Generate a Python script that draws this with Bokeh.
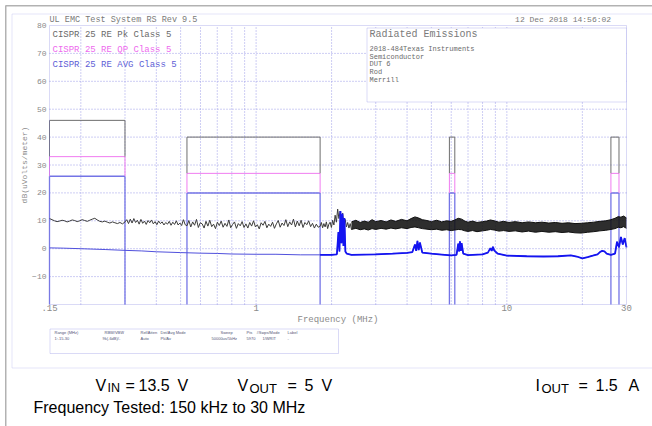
import math
import numpy as np
from bokeh.plotting import figure
from bokeh.models import Label, BoxAnnotation, FixedTicker, Range1d
from bokeh.embed import file_html
from bokeh.resources import INLINE

# ---------------- data ----------------
band_lo = [0.15, 0.53, 5.9, 26.0]
band_hi = [0.30, 1.8, 6.2, 28.0]
lim_pk = [46, 40, 40, 40]
lim_qp = [33, 27, 27, 27]
lim_avg = [26, 20, 20, 20]

x_lim = (0.15, 30.0)
y_lim = (-20.0, 80.0)
x_ticks = [0.15, 1, 10, 30]
x_tick_labels = {0.15: ".15", 1: "1", 10: "10", 30: "30"}
x_grid = [0.2, 0.3, 0.4, 0.5, 0.6, 0.7, 0.8, 0.9, 1, 2, 3, 4, 5, 6, 7, 8, 9, 10, 20]
y_ticks = [-10, 0, 10, 20, 30, 40, 50, 60, 70, 80]
y_grid = [-10, 0, 10, 20, 30, 40, 50, 60, 70]

# peak trace (dB uV/m), sweep segments
pk_a = [10.8, 10.4, 10.0, 9.7, 9.9, 10.2, 10.0, 9.6, 9.9, 10.3, 10.1, 9.7, 10.0, 10.4, 10.1,
        9.8, 10.2, 10.6, 10.9, 10.3, 9.8, 9.6, 9.9, 9.5, 9.2, 9.6, 9.3, 9.0, 9.4, 8.9]
pk_b = [9.6, 10.4, 9.0, 10.6, 9.2, 10.8, 9.4, 10.2, 8.8, 10.5, 9.1, 9.9, 8.7, 10.1, 9.3, 10.3,
        8.9, 9.7, 8.6, 9.9, 9.0, 9.6, 8.5, 9.4, 8.8, 9.8, 8.4, 9.5, 8.7, 10.0, 8.5, 9.2, 8.3,
        10.4, 8.6]
pk_c = [8.2, 10.1, 7.8, 9.6, 8.4, 10.5, 7.6, 9.3, 8.9, 7.4, 9.8, 8.1, 10.2, 7.9, 8.8, 7.2,
        9.5, 8.3, 9.9, 7.7, 9.1, 8.0, 10.3, 7.5, 8.7, 9.6, 7.3, 9.0, 8.2, 9.7, 7.6, 8.9, 7.4,
        9.4, 8.1, 10.0, 7.8, 8.6, 7.1, 9.3, 8.4, 9.8, 7.5, 8.8, 8.0, 9.5, 7.3, 8.9, 10.1, 7.7,
        9.2, 8.3, 10.4, 7.9, 9.6, 8.5, 10.6, 7.8, 9.9, 8.2, 10.2, 7.6, 9.4, 8.6, 10.0, 7.9,
        9.1, 7.4, 8.8, 7.7]
pk_d = [8.0, 9.4, 7.5, 9.0, 7.8, 9.6, 7.2, 8.8, 9.5, 7.6, 10.2, 8.5, 12.0, 9.5, 14.2, 10.8,
        13.5, 9.8, 12.8, 8.6, 10.5, 7.8, 9.4, 7.4, 9.0]
pk_seg_edges = [0.15, 0.30, 0.53, 1.8, 2.4]

# peak trace dense part: envelope
pk_band_f = [2.4, 2.5, 2.6, 2.7, 2.8, 2.9, 3.0, 3.15, 3.3, 3.45, 3.6, 3.8, 4.0, 4.15, 4.3,
             4.45, 4.6, 4.8, 5.0, 5.25, 5.5, 5.75, 6.0, 6.2, 6.4, 6.6, 6.8, 7.0, 7.3, 7.6,
             8.0, 8.3, 8.6, 8.9, 9.3, 9.7, 10.2, 10.8, 11.5, 12.2, 13.0, 13.8, 14.7, 15.6,
             16.6, 17.6, 18.7, 19.8, 21.0, 22.2, 23.5, 24.8, 26.0, 27.0, 27.8, 28.5, 29.2, 30.0]
pk_band_hi = [9.6, 10.2, 9.4, 9.9, 9.5, 10.4, 9.7, 10.1, 9.6, 10.3, 9.8, 10.5, 10.0, 10.8,
              11.4, 11.0, 10.4, 10.1, 9.7, 10.2, 9.6, 10.0, 9.8, 10.3, 10.9, 10.6, 9.9, 9.5,
              9.9, 9.4, 9.7, 9.9, 10.3, 10.0, 9.5, 9.8, 9.4, 9.7, 9.3, 9.6, 9.3, 9.5, 9.2,
              9.4, 9.1, 9.3, 9.0, 9.1, 9.3, 9.5, 9.8, 10.0, 10.4, 10.9, 11.5, 11.3, 11.7, 11.0]
pk_band_lo = [6.9, 7.3, 6.8, 7.1, 6.7, 7.2, 6.9, 7.3, 7.0, 7.4, 7.1, 7.5, 7.2, 7.6, 7.8, 7.5,
              7.2, 7.0, 6.8, 7.0, 6.6, 6.8, 6.5, 6.7, 6.9, 6.8, 6.4, 6.2, 6.5, 6.1, 6.4, 6.6,
              6.9, 6.7, 6.3, 6.5, 6.2, 6.4, 6.0, 6.3, 5.9, 6.2, 5.9, 6.1, 5.8, 6.0, 5.7, 5.6,
              5.9, 6.1, 6.4, 6.6, 6.9, 7.2, 7.7, 7.5, 7.9, 7.3]

# average trace
avg_f = [0.15, 0.17, 0.2, 0.25, 0.3, 0.35, 0.4, 0.5, 0.6, 0.7, 0.8, 1.0, 1.2, 1.5, 1.8, 2.0,
         2.1, 2.13, 2.15, 2.17, 2.19, 2.21, 2.23, 2.25, 2.27, 2.3, 2.4, 2.7, 3.0, 3.5, 4.0,
         4.2, 4.3, 4.35, 4.4, 4.45, 4.5, 4.6, 5.0, 5.5, 6.0, 6.3, 6.4, 6.45, 6.5, 6.55, 6.6,
         6.7, 7.0, 8.0, 8.4, 8.6, 8.7, 8.8, 8.9, 9.2, 10, 12, 14, 16, 18, 19, 20, 21, 22, 23,
         23.5, 24, 24.5, 25, 26, 27, 27.5, 28, 28.5, 29, 29.5, 30]
avg_v = [0.3, 0.2, 0.0, -0.3, -0.6, -0.8, -1.1, -1.4, -1.6, -1.7, -1.9, -2.0, -2.0, -2.2,
         -2.2, -2.2, -2.0, 6.0, -1.0, 13.5, 2.0, 12.5, 1.0, 11.0, -1.0, -1.8, -2.2, -2.1,
         -2.0, -1.8, -1.5, -1.2, 1.5, -0.8, 2.8, -0.5, 2.2, -1.4, -1.8, -2.1, -2.4, -2.2,
         1.8, -1.0, 2.6, -0.8, 2.0, -1.8, -2.3, -2.0, -1.4, 0.2, -0.8, 0.7, -0.6, -1.8, -2.5,
         -2.7, -2.8, -2.7, -2.4, -2.8, -3.5, -3.0, -2.5, -2.0, -1.2, -0.8, -1.0, -1.8, -2.2,
         -1.8, 2.5, 0.5, 4.2, 1.5, 3.8, 0.5]

# ---------------- layout (page pixels) ----------------
W, H = 652, 426
PL, PT, PR, PB = 49, 25, 626, 304      # plot area box on the page
MONO = "Liberation Mono"
SANS = "Liberation Sans"
GRID = "#9c9ce8"
FRAME = "#8686e2"
LIM_AVG = "#7474e6"
LIM_QP = "#f07cf0"
LIM_PK = "#6e6e6e"

# whole canvas is the frame; the plot area is mapped onto its box via the ranges
kx = math.log10(x_lim[1] / x_lim[0]) / (PR - PL)
ky = (y_lim[1] - y_lim[0]) / (PB - PT)
x_range = Range1d(x_lim[0] / 10 ** (PL * kx), x_lim[1] * 10 ** ((W - PR) * kx))
y_range = Range1d(y_lim[0] - (H - PB) * ky, y_lim[1] + PT * ky)

p = figure(width=W, height=H, x_axis_type="log", x_range=x_range, y_range=y_range,
           output_backend="svg", toolbar_location=None, title=None,
           min_border_left=0, min_border_right=0, min_border_top=0, min_border_bottom=0)
p.background_fill_color = "white"
p.border_fill_color = "white"
p.outline_line_color = None
p.grid.visible = False

# axes pinned to the plot-area edges
p.xaxis.fixed_location = y_lim[0]
p.yaxis.fixed_location = x_lim[0]
p.xaxis.bounds = x_lim
p.yaxis.bounds = y_lim
p.xaxis.ticker = FixedTicker(ticks=x_ticks, minor_ticks=[])
p.xaxis.major_label_overrides = x_tick_labels
p.yaxis.ticker = FixedTicker(ticks=y_ticks, minor_ticks=[])
for ax in (p.xaxis, p.yaxis):
    ax.axis_line_color = None
    ax.major_tick_line_color = None
    ax.minor_tick_line_color = None
    ax.major_tick_out = 0
    ax.major_tick_in = 0
    ax.major_label_text_font = MONO
    ax.major_label_text_color = "#8a8a8a"
    ax.axis_label_text_font = MONO
    ax.axis_label_text_font_style = "normal"
    ax.axis_label_text_color = "#8a8a8a"
p.xaxis.major_label_text_font_size = "9px"
p.xaxis.major_label_standoff = 0
p.xaxis.axis_label = "Frequency (MHz)"
p.xaxis.axis_label_text_font_size = "9px"
p.xaxis.axis_label_standoff = 1
p.yaxis.major_label_text_font_size = "8px"
p.yaxis.major_label_standoff = 3
p.yaxis.axis_label = "dB(uVolts/meter)"
p.yaxis.axis_label_text_font_size = "8px"
p.yaxis.axis_label_standoff = 0

# dotted grid inside the plot area
p.segment(x0=x_grid, x1=x_grid, y0=[y_lim[0]] * len(x_grid), y1=[y_lim[1]] * len(x_grid),
          line_color=GRID, line_dash="1 2", line_width=1)
p.segment(x0=[x_lim[0]] * len(y_grid), x1=[x_lim[1]] * len(y_grid), y0=y_grid, y1=y_grid,
          line_color=GRID, line_dash="1 2", line_width=1)

# limit lines
hx0, hx1, hy, hc, hw = [], [], [], [], []
vx, vy0, vy1, vc, vw = [], [], [], [], []
for lo, hi, pk, qp, av in zip(band_lo, band_hi, lim_pk, lim_qp, lim_avg):
    for lvl, col, w in ((pk, LIM_PK, 1), (qp, LIM_QP, 1), (av, LIM_AVG, 1.5)):
        hx0.append(lo); hx1.append(hi); hy.append(lvl); hc.append(col); hw.append(w)
    for edge in (lo, hi):
        for a, b, col, w in ((pk, qp, LIM_PK, 1), (qp, av, LIM_QP, 1), (av, y_lim[0], LIM_AVG, 1.3)):
            vx.append(edge); vy0.append(a); vy1.append(b); vc.append(col); vw.append(w)
p.segment(x0=hx0, x1=hx1, y0=hy, y1=hy, line_color=hc, line_width=hw)
p.segment(x0=vx, x1=vx, y0=vy0, y1=vy1, line_color=vc, line_width=vw)

# peak trace
pk_f, pk_v = [], []
for i, seg in enumerate((pk_a, pk_b, pk_c, pk_d)):
    pk_f.extend(np.geomspace(pk_seg_edges[i], pk_seg_edges[i + 1], len(seg), endpoint=False))
    pk_v.extend(seg)
pk_f.append(pk_band_f[0]); pk_v.append(pk_band_lo[0])
p.line(pk_f, pk_v, line_color="#3c3c3c", line_width=1)
p.varea(x=pk_band_f, y1=pk_band_lo, y2=pk_band_hi, fill_color="#111111", fill_alpha=0.88)
p.line(pk_band_f, pk_band_hi, line_color="#111111", line_width=1)
p.line(pk_band_f, pk_band_lo, line_color="#111111", line_width=1)

# average trace
p.line(avg_f, avg_v, line_color="#5050dc", line_width=1)
k = avg_f.index(1.8)
p.line(avg_f[k:], avg_v[k:], line_color="#1414f0", line_width=1.8)

# plot-area outline
p.add_layout(BoxAnnotation(left=x_lim[0], right=x_lim[1], bottom=y_lim[0], top=y_lim[1],
                           fill_alpha=0, line_color=FRAME, line_width=1))


# ---------------- decorations (page pixel coords) ----------------
def add_text(X, Y, s, size, color, font=MONO, align="left", baseline="middle"):
    p.add_layout(Label(x=X, y=H - Y, x_units="screen", y_units="screen", text=s,
                       text_font=font, text_font_size=f"{size}px", text_color=color,
                       text_align=align, text_baseline=baseline))


def add_box(X0, Y0, X1, Y1, color, width=1.0, fill=None):
    p.add_layout(BoxAnnotation(left=X0, right=X1, top=H - Y0, bottom=H - Y1,
                               left_units="screen", right_units="screen",
                               top_units="screen", bottom_units="screen",
                               line_color=color, line_width=width,
                               fill_color=fill if fill else "white",
                               fill_alpha=1 if fill else 0))


add_box(5.25, 5.25, 2000, 2000, "black", 1.5)
add_box(11.5, 13.5, 2000, 367.5, "#a4a4ea", 1)

add_text(49, 19, "UL EMC Test System RS Rev 9.5", 8.5, "#7a7a7a")
add_text(625, 19, "12 Dec 2018    14:56:02", 8, "#7a7a7a", align="right")

add_text(52, 34, "CISPR 25 RE Pk Class 5", 9, "#6a6a6a")
add_text(52, 49, "CISPR 25 RE QP Class 5", 9, "#ee6aee")
add_text(52, 64, "CISPR 25 RE AVG Class 5", 9, "#5e5ed6")

add_box(366.5, 27.5, 626, 101.5, FRAME, 1, fill="white")
add_text(369, 34, "Radiated Emissions", 10, "#7a7a7a")
for yy, s in zip([48, 56, 63.5, 71, 79], ["2018-484Texas Instruments", "Semiconductor", "DUT 6", "Rod", "Merrill"]):
    add_text(369, yy, s, 7, "#6a6a6a")

# instrument settings box
add_box(49.5, 328.5, 338, 353, FRAME, 1)
info_h = ["Range (MHz)", "RBW/VBW", "Ref/Atten", "Det/Avg Mode", "Sweep", "Pts", "#Swps/Mode", "Label"]
info_v = ["1:.15-30", "9k(-6dB)/-", "Auto", "Pk/Av", "50000us/5kHz", "5970", "1/WRIT", "-"]
hx = [54, 104, 140, 160, 220, 246, 256, 287]
vxs = [54, 102, 140, 160, 211, 246, 262, 287]
for xh, xv, h, v in zip(hx, vxs, info_h, info_v):
    add_text(xh, 332, h, 4, "#555577", SANS)
    add_text(xv, 337.5, v, 4, "#555577", SANS)

# test conditions
BL = 384.5
add_text(95, BL, "V", 16, "black", SANS, baseline="alphabetic")
add_text(107, BL + 3, "IN", 12.5, "black", SANS, baseline="alphabetic")
add_text(125, BL, "=", 16, "black", SANS, baseline="alphabetic")
add_text(138, BL, "13.5", 16, "black", SANS, baseline="alphabetic")
add_text(177, BL, "V", 16, "black", SANS, baseline="alphabetic")
add_text(237, BL, "V", 16, "black", SANS, baseline="alphabetic")
add_text(249, BL + 3, "OUT", 13, "black", SANS, baseline="alphabetic")
add_text(287, BL, "=", 16, "black", SANS, baseline="alphabetic")
add_text(304, BL, "5", 16, "black", SANS, baseline="alphabetic")
add_text(321, BL, "V", 16, "black", SANS, baseline="alphabetic")
add_text(535, BL, "I", 16, "black", SANS, baseline="alphabetic")
add_text(541, BL + 3, "OUT", 13, "black", SANS, baseline="alphabetic")
add_text(578, BL, "=", 16, "black", SANS, baseline="alphabetic")
add_text(595, BL, "1.5", 16, "black", SANS, baseline="alphabetic")
add_text(628, BL, "A", 16, "black", SANS, baseline="alphabetic")
add_text(33, 407, "Frequency Tested: 150 kHz to 30 MHz", 16, "black", SANS, baseline="alphabetic")

open("out.html", "w").write(file_html(p, INLINE))
